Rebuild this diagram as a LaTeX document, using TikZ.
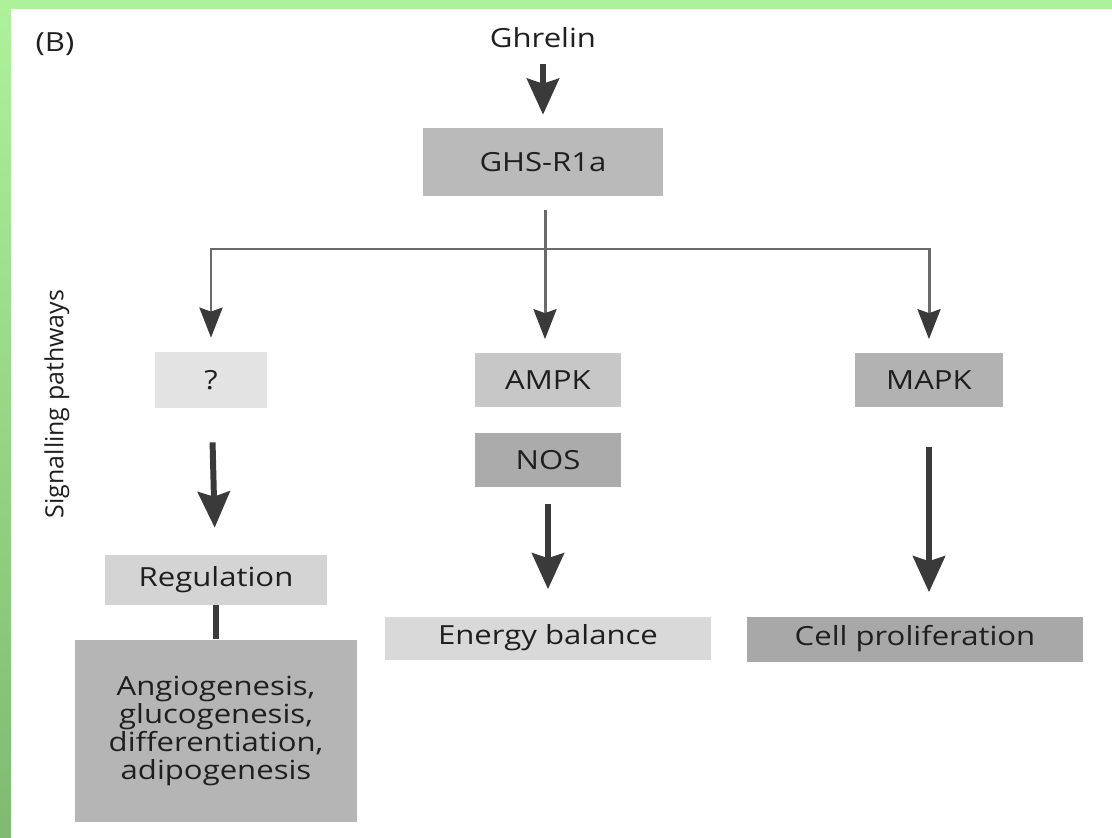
\documentclass[tikz,border=0pt]{standalone}
\usepackage{fontspec}
\setmainfont{Open Sans}
\newfontfamily\widefont[FakeStretch=1.18]{Open Sans}
\usetikzlibrary{arrows.meta}
\definecolor{greenlight}{HTML}{ADF29B}
\definecolor{greendark}{HTML}{7FBA70}
\definecolor{inkdark}{HTML}{3A3A3A}
\definecolor{inkline}{HTML}{6A6A6A}
\begin{document}
\begin{tikzpicture}[
  x=0.02cm, y=-0.02cm,
  box/.style={fill=#1, inner sep=0pt, align=center},
  bigarrow/.style={draw=inkdark, line width=3.4pt, -{Stealth[width=0.64cm, length=0.72cm, inset=0.1cm]}},
  thinarrow/.style={draw=inkline, line width=1.7pt, -{Stealth[width=0.46cm, length=0.6cm, inset=0.08cm, color=inkdark]}},
  every node/.style={text=black!88, font=\widefont\fontsize{15}{16}\selectfont}
]
% frame
\useasboundingbox (0,0) rectangle (1112,838);
\fill[white] (0,0) rectangle (1112,838);
\shade[top color=greenlight, bottom color=greendark] (0,0) rectangle (11,838);
\fill[greenlight] (0,0) rectangle (1112,9);

% labels
\node (panel) at (55,44) {(B)};
\node[rotate=90, font=\fontsize{14.2}{16}\selectfont] (pathways) at (57,404) {Signalling pathways};
\node (ghrelin) at (543,38) {Ghrelin};

% boxes
\node[box=black!27, minimum width=4.8cm, minimum height=1.36cm] (ghs) at (543,162) {GHS-R1a};
\node[box=black!11, minimum width=2.26cm, minimum height=1.12cm] (unknown) at (211,380) {?};
\node[box=black!22, minimum width=2.92cm, minimum height=1.1cm] (ampk) at (548,380) {AMPK};
\node[box=black!33, minimum width=2.92cm, minimum height=1.1cm] (nos) at (548,460) {NOS};
\node[box=black!30, minimum width=2.96cm, minimum height=1.1cm] (mapk) at (929,380) {MAPK};
\node[box=black!17, minimum width=4.46cm, minimum height=1.0cm] (regulation) at (216,580) {Regulation};
\node[box=black!29, minimum width=5.66cm, minimum height=3.66cm] (effects) at (216,731)
  {Angiogenesis,\\glucogenesis,\\differentiation,\\adipogenesis};
\node[box=black!15, minimum width=6.54cm, minimum height=0.86cm] (energy) at (548,638) {Energy balance};
\node[box=black!34, minimum width=6.72cm, minimum height=0.9cm] (cell) at (915,639) {Cell proliferation};

% connectors
\coordinate (split) at (545,249);
\draw[bigarrow, shorten <=0.2cm, shorten >=0.26cm] (ghrelin) -- (ghs);
\draw[thinarrow, shorten <=0.28cm, shorten >=0.26cm] (ghs.south -| split) -- (ampk.north -| split);
\draw[thinarrow, shorten >=0.28cm] (split) -| (unknown.north);
\draw[thinarrow, shorten >=0.26cm] (split) -| (mapk.north);
\draw[bigarrow, shorten <=0.68cm, shorten >=0.54cm] (unknown) -- (regulation);
\draw[draw=inkdark, line width=3.4pt] (regulation) -- (effects);
\draw[bigarrow, shorten <=0.32cm, shorten >=0.54cm] (nos) -- (energy.north -| nos.south);
\draw[bigarrow, shorten <=0.78cm, shorten >=0.48cm] (mapk) -- (cell.north -| mapk.south);
\end{tikzpicture}
\end{document}
